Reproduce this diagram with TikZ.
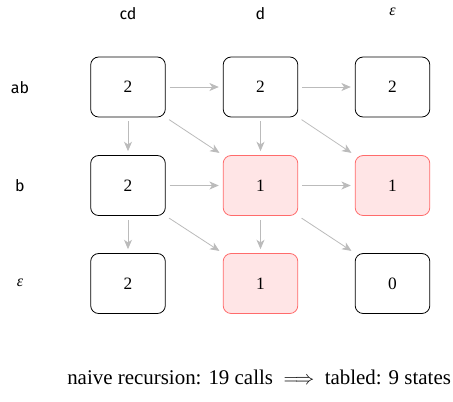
\documentclass[tikz,border=0pt]{standalone}
\usepackage{fontspec}
\setmainfont{Liberation Serif}
\setsansfont{Fira Sans}
\usetikzlibrary{arrows.meta}
\definecolor{edgegray}{HTML}{BBBBBB}
\definecolor{hotfill}{HTML}{FFE5E6}
\definecolor{hotdraw}{HTML}{FF6B6B}
\newcommand{\eps}{{\rmfamily\itshape ε}}
\begin{document}
\begin{tikzpicture}[x=0.75pt,y=-0.75pt,
  cell/.style={draw=black, line width=0.6pt, rounded corners=6pt, minimum width=56pt, minimum height=45pt, inner sep=0pt, font=\fontsize{13}{15}\selectfont},
  hot/.style={cell, draw=hotdraw, fill=hotfill},
  lab/.style={font=\sffamily\large},
  edge/.style={draw=edgegray, -{Stealth[length=7pt,width=6pt,inset=2pt]}, shorten <=3pt, shorten >=3pt, line width=0.6pt}]
\useasboundingbox (0,0) rectangle (453,401);
\node[lab] (c1) at (128,14) {cd};
\node[lab] (c2) at (260.5,14) {d};
\node[lab] (c3) at (392.5,12) {\eps};
\node[lab] (r1) at (20,88) {ab};
\node[lab] (r2) at (20,186) {b};
\node[lab] (r3) at (20,283) {\eps};
\node[cell] (a1) at (128,87) {2};
\node[cell] (a2) at (260.5,87) {2};
\node[cell] (a3) at (392.5,87) {2};
\node[cell] (b1) at (128,185.5) {2};
\node[hot]  (b2) at (260.5,185.5) {1};
\node[hot]  (b3) at (392.5,185.5) {1};
\node[cell] (e1) at (128,283.5) {2};
\node[hot]  (e2) at (260.5,283.5) {1};
\node[cell] (e3) at (392.5,283.5) {0};
\draw[edge] (a1) -- (a2);
\draw[edge] (a2) -- (a3);
\draw[edge] (b1) -- (b2);
\draw[edge] (b2) -- (b3);
\draw[edge] (a1) -- (b1);
\draw[edge] (b1) -- (e1);
\draw[edge] (a2) -- (b2);
\draw[edge] (b2) -- (e2);
\draw[edge] (a1.south east) -- (b2.north west);
\draw[edge] (a2.south east) -- (b3.north west);
\draw[edge] (b1.south east) -- (e2.north west);
\draw[edge] (b2.south east) -- (e3.north west);
\node[font=\fontsize{15.7}{18}\selectfont, anchor=west, inner sep=0pt] (cap) at (67,377) {naive recursion: 19 calls $\;\Longrightarrow\;$ tabled: 9 states};
\end{tikzpicture}
\end{document}
